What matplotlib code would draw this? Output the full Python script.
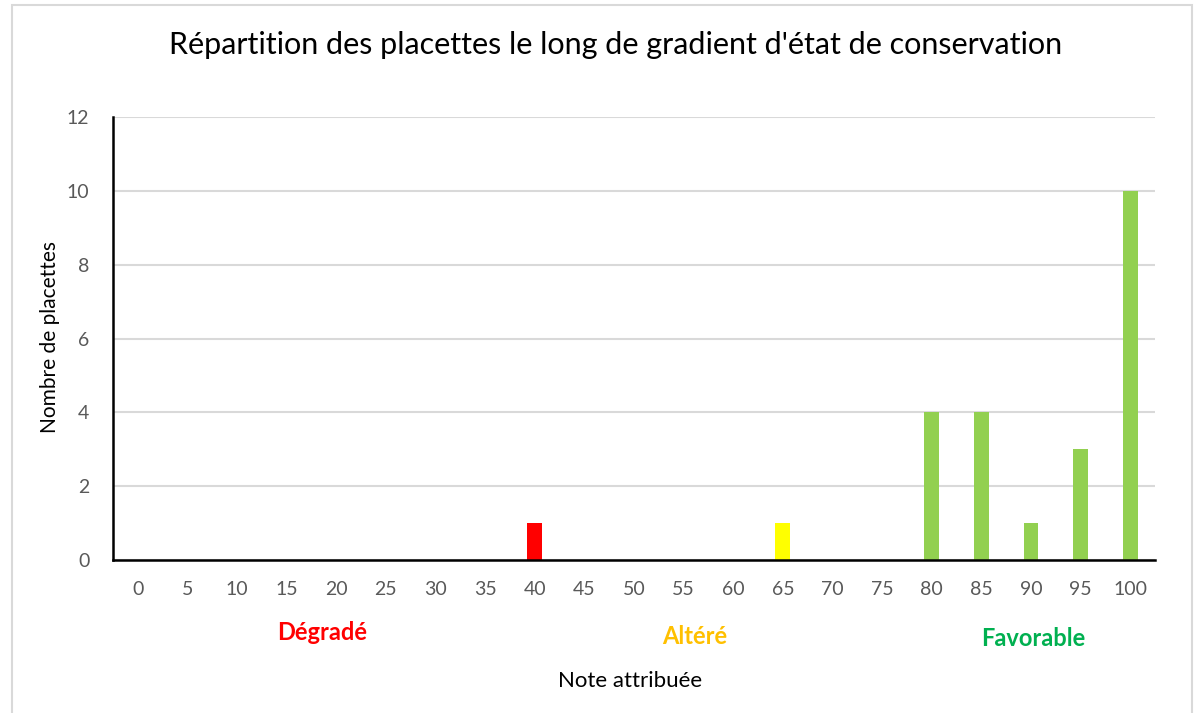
import numpy as np
import matplotlib.pyplot as plt
from matplotlib.patches import Rectangle

# Notes (categories) and number of plots per note
notes = [str(n) for n in range(0, 105, 5)]
counts = [0, 0, 0, 0, 0, 0, 0, 0, 1, 0, 0, 0, 0, 1, 0, 0, 4, 4, 1, 3, 10]
bar_colors = ["#FF0000" if int(n) < 50 else "#FFFF00" if int(n) < 75 else "#92D050" for n in notes]

zones = ["Dégradé", "Altéré", "Favorable"]
zone_colors = ["#FF0000", "#FFC000", "#00B050"]

plt.rcParams['font.family'] = ['Lato', 'DejaVu Sans']

fig = plt.figure(figsize=(12, 7.13), dpi=100)
ax = fig.add_axes([113 / 1200, 1 - 560 / 713, (1155 - 113) / 1200, (560 - 117) / 713])

x = np.arange(len(notes))
ax.bar(x, counts, width=0.30, color=bar_colors, zorder=3)

ax.set_xlim(-0.5, len(notes) - 0.5)
ax.set_ylim(0, 12)
ax.set_yticks(range(0, 13, 2))
ax.set_xticks(x)
ax.set_xticklabels(notes)
ax.grid(axis="y", color="#d9d9d9", linewidth=1.5, zorder=0)
ax.tick_params(length=0, colors="#595959", labelsize=14)
ax.tick_params(axis="x", pad=15)
ax.tick_params(axis="y", pad=17)

for s in ["top", "right"]:
    ax.spines[s].set_visible(False)
for s in ["left", "bottom"]:
    ax.spines[s].set_color("black")
    ax.spines[s].set_linewidth(1.8)
    ax.spines[s].set_zorder(4)

fig.text(616 / 1200, 1 - 45 / 713, "Répartition des placettes le long de gradient d'état de conservation",
         ha="center", va="center", fontsize=22, color="black")
fig.text(50 / 1200, 1 - 337 / 713, "Nombre de placettes", rotation=90,
         ha="center", va="center", fontsize=15, color="black")
fig.text(630 / 1200, 1 - 681 / 713, "Note attribuée", ha="center", va="center", fontsize=16, color="black")

zone_x = [322, 695, 1033]
zone_y = [633, 636, 638]
for label, col, zx, zy in zip(zones, zone_colors, zone_x, zone_y):
    fig.text(zx / 1200, 1 - zy / 713, label, ha="center", va="center",
             fontsize=17, fontweight="bold", color=col)

# chart frame
fig.patches.append(Rectangle((12 / 1200, -0.01), 1180 / 1200, 1 - 5 / 713 + 0.01,
                             transform=fig.transFigure, fill=False,
                             edgecolor="#d9d9d9", linewidth=1.5))

fig.savefig("out.png", dpi=100)
